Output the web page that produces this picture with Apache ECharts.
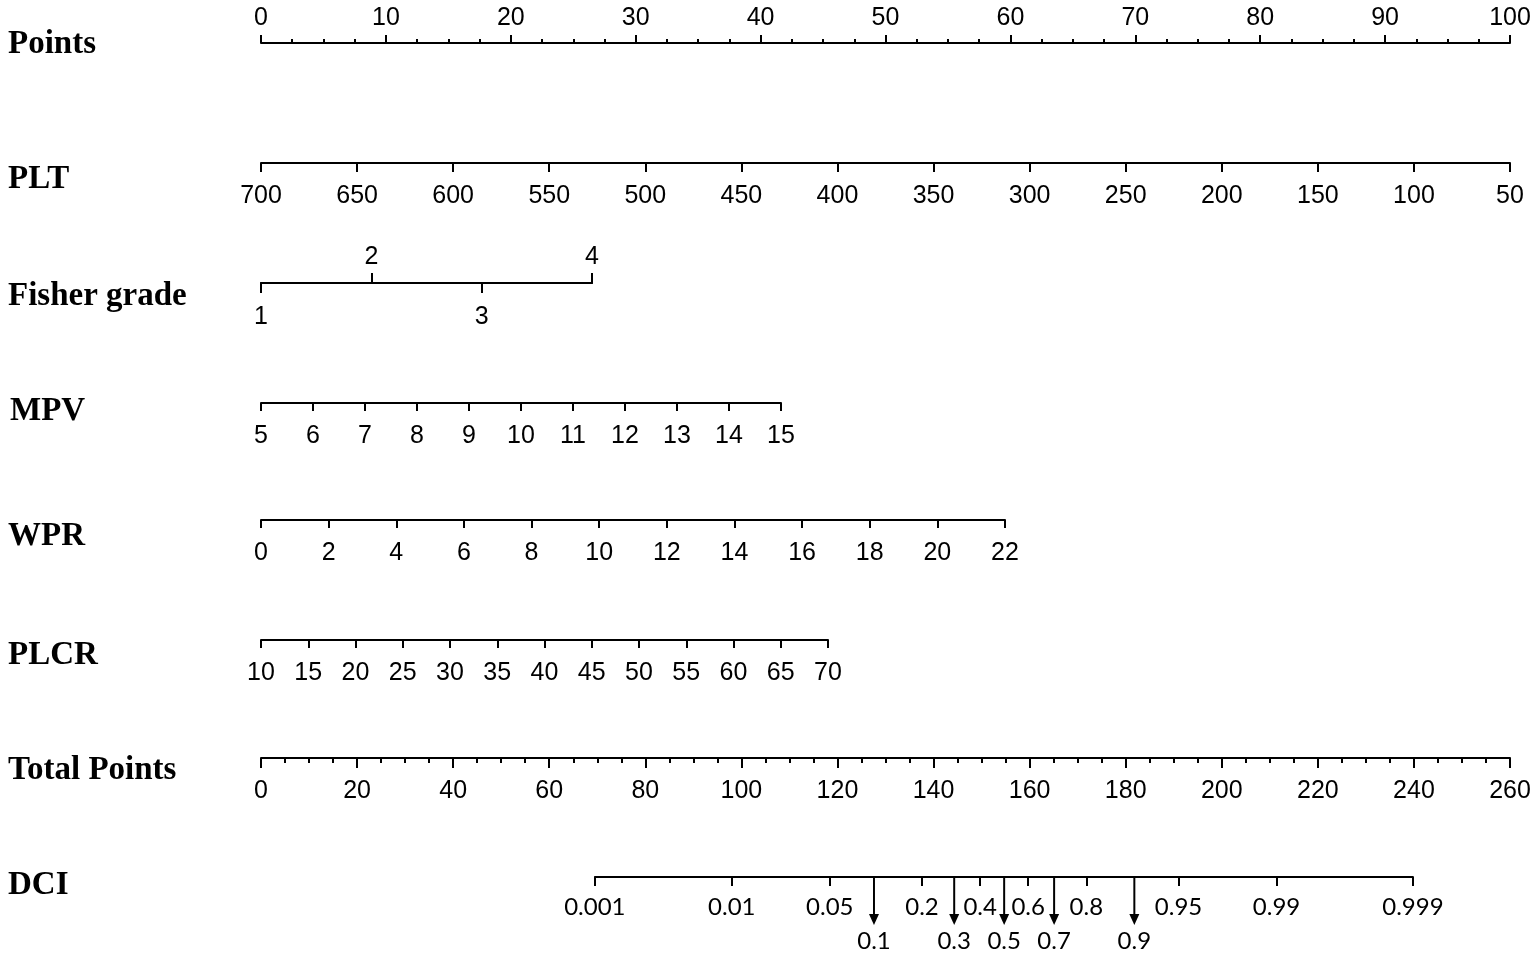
<!DOCTYPE html>
<html>
<head>
<meta charset="utf-8">
<title>Nomogram</title>
<script src="https://cdn.jsdelivr.net/npm/echarts@6/dist/echarts.min.js"></script>
<style>
  html, body { margin: 0; padding: 0; background: #fff; }
  #main { width: 1535px; height: 955px; }
</style>
</head>
<body>
<div id="main"></div>
<script>
// row titles
const rowNames = ['Points', 'PLT', 'Fisher grade', 'MPV', 'WPR', 'PLCR', 'Total Points', 'DCI'];
// scale ranges [min, max, step]
const pointsScale = [0, 100, 10];
const pltScale = [50, 700, 50];
const fisherScale = [1, 4, 1];
const fisherUpper = [2, 4];
const fisherLower = [1, 3];
const mpvScale = [5, 15, 1];
const wprScale = [0, 22, 2];
const plcrScale = [10, 70, 5];
const totalScale = [0, 260, 20];
// DCI probabilities and their total points
const dciLabels = ['0.001', '0.01', '0.05', '0.1', '0.2', '0.3', '0.4', '0.5', '0.6', '0.7', '0.8', '0.9', '0.95', '0.99', '0.999'];
const dciPoints = [69.5, 98.0, 118.4, 127.6, 137.6, 144.3, 149.7, 154.7, 159.7, 165.1, 171.8, 181.8, 191.0, 211.4, 239.8];
const dciArrowed = ['0.1', '0.3', '0.5', '0.7', '0.9'];

const INK = '#000';
const TICK_FONT = '"Liberation Sans", Arial, sans-serif';
const DCI_FONT = 'Lato, "Open Sans", sans-serif';
const FS = 25;

const chart = echarts.init(document.getElementById('main'));

const left0 = 261, fullW = 1249;
const grids = [], xAxes = [], yAxes = [], series = [];

// one grid per axis line; lineY is the pixel row of the axis line
function addRow(opt) {
  const gi = grids.length;
  const h = 20;
  grids.push({
    left: opt.left, width: opt.width,
    top: opt.pos === 'top' ? opt.lineY : opt.lineY - h,
    height: h,
    containLabel: false,
    outerBoundsMode: 'none'
  });
  yAxes.push({ gridIndex: gi, type: 'value', min: 0, max: 1, show: false });
  const ax = Object.assign({
    gridIndex: gi,
    type: 'value',
    position: opt.pos,
    splitLine: { show: false },
    axisLine: { show: true, onZero: false, lineStyle: { color: INK, width: 2 } },
    axisTick: { show: true, length: 8, lineStyle: { color: INK, width: 2 } },
    axisLabel: { color: INK, fontSize: FS, fontFamily: TICK_FONT, margin: 20 }
  }, opt.axis);
  xAxes.push(ax);
  return gi;
}

// Points
addRow({
  left: left0, width: fullW, lineY: 43, pos: 'top',
  axis: {
    min: pointsScale[0], max: pointsScale[1], interval: pointsScale[2],
    axisTick: { length: 8, lineStyle: { color: INK, width: 2 } },
    minorTick: { show: true, splitNumber: 4, length: 4, lineStyle: { color: INK, width: 2 } },
    axisLabel: { color: INK, fontSize: FS, fontFamily: TICK_FONT, margin: 12 }
  }
});
// PLT
addRow({
  left: left0, width: fullW, lineY: 163, pos: 'bottom',
  axis: { min: pltScale[0], max: pltScale[1], interval: pltScale[2], inverse: true,
    axisTick: { length: 9, lineStyle: { color: INK, width: 2 } },
    axisLabel: { color: INK, fontSize: FS, fontFamily: TICK_FONT, margin: 21 } }
});
// Fisher grade: upper labels
const fisherW = 592 - left0;
addRow({
  left: left0, width: fisherW, lineY: 283, pos: 'top',
  axis: { min: fisherScale[0], max: fisherScale[1], interval: fisherScale[2],
    axisTick: { length: 10, customValues: fisherUpper, lineStyle: { color: INK, width: 2 } },
    axisLabel: { color: INK, fontSize: FS, fontFamily: TICK_FONT, margin: 13, customValues: fisherUpper } }
});
// Fisher grade: lower labels
addRow({
  left: left0, width: fisherW, lineY: 283, pos: 'bottom',
  axis: { min: fisherScale[0], max: fisherScale[1], interval: fisherScale[2],
    axisTick: { length: 10, customValues: fisherLower, lineStyle: { color: INK, width: 2 } },
    axisLabel: { color: INK, fontSize: FS, fontFamily: TICK_FONT, margin: 22, customValues: fisherLower } }
});
// MPV
addRow({
  left: left0, width: 781 - left0, lineY: 403, pos: 'bottom',
  axis: { min: mpvScale[0], max: mpvScale[1], interval: mpvScale[2],
    axisLabel: { color: INK, fontSize: FS, fontFamily: TICK_FONT, margin: 21 } }
});
// WPR
addRow({
  left: left0, width: 1005 - left0, lineY: 520, pos: 'bottom',
  axis: { min: wprScale[0], max: wprScale[1], interval: wprScale[2],
    axisLabel: { color: INK, fontSize: FS, fontFamily: TICK_FONT, margin: 21 } }
});
// PLCR
addRow({
  left: left0, width: 828 - left0, lineY: 640, pos: 'bottom',
  axis: { min: plcrScale[0], max: plcrScale[1], interval: plcrScale[2],
    axisLabel: { color: INK, fontSize: FS, fontFamily: TICK_FONT, margin: 21 } }
});
// Total Points
addRow({
  left: left0, width: fullW, lineY: 758, pos: 'bottom',
  axis: { min: totalScale[0], max: totalScale[1], interval: totalScale[2],
    axisTick: { length: 10, lineStyle: { color: INK, width: 2 } },
    minorTick: { show: true, splitNumber: 4, length: 5, lineStyle: { color: INK, width: 2 } },
    axisLabel: { color: INK, fontSize: FS, fontFamily: TICK_FONT, margin: 21 } }
});

// DCI, drawn on the total-points scale
const dciMin = dciPoints[0], dciMax = dciPoints[dciPoints.length - 1];
const dciLeft = left0 + dciMin / totalScale[1] * fullW;
const dciRight = left0 + dciMax / totalScale[1] * fullW;
const upperPts = dciPoints.filter((v, i) => dciArrowed.indexOf(dciLabels[i]) < 0);
const lowerPts = dciPoints.filter((v, i) => dciArrowed.indexOf(dciLabels[i]) >= 0);
function dciFmt(v) {
  let best = 0;
  dciPoints.forEach((p, i) => { if (Math.abs(p - v) < Math.abs(dciPoints[best] - v)) best = i; });
  return dciLabels[best];
}
const dciGrid = addRow({
  left: dciLeft, width: dciRight - dciLeft, lineY: 877, pos: 'bottom',
  axis: { min: dciMin, max: dciMax,
    axisTick: { length: 9, customValues: upperPts, lineStyle: { color: INK, width: 2 } },
    axisLabel: { color: INK, fontSize: 24, fontFamily: DCI_FONT, margin: 18,
      customValues: upperPts, formatter: dciFmt } }
});
xAxes.push({
  gridIndex: dciGrid, type: 'value', position: 'bottom', min: dciMin, max: dciMax,
  splitLine: { show: false },
  axisLine: { show: false, onZero: false },
  axisTick: { show: false },
  axisLabel: { color: INK, fontSize: 24, fontFamily: DCI_FONT, margin: 52,
    customValues: lowerPts, formatter: dciFmt }
});
const dciXAxisIndex = xAxes.length - 2;

series.push({
  type: 'custom',
  xAxisIndex: dciXAxisIndex,
  yAxisIndex: dciGrid,
  silent: true,
  clip: false,
  data: lowerPts.map(v => [v, 0]),
  renderItem: function (params, api) {
    const p = api.coord([api.value(0), api.value(1)]);
    return {
      type: 'group',
      children: [
        { type: 'line', shape: { x1: p[0], y1: p[1], x2: p[0], y2: p[1] + 40 },
          style: { stroke: INK, lineWidth: 2 } },
        { type: 'polygon', shape: { points: [[p[0] - 5, p[1] + 37], [p[0] + 5, p[1] + 37], [p[0], p[1] + 48]] },
          style: { fill: INK } }
      ]
    };
  }
});

const labelY = [44, 179, 296, 411, 536, 655, 770, 885];
const labelX = [8, 8, 8, 10, 8, 8, 8, 8];
const graphic = rowNames.map((name, i) => ({
  type: 'text',
  x: labelX[i], y: labelY[i],
  style: {
    text: name,
    font: 'bold 33px "Liberation Serif", "Times New Roman", serif',
    fill: INK,
    verticalAlign: 'middle'
  }
}));

chart.setOption({
  animation: false,
  backgroundColor: '#fff',
  grid: grids,
  xAxis: xAxes,
  yAxis: yAxes,
  series: series,
  graphic: graphic
});
</script>
</body>
</html>
